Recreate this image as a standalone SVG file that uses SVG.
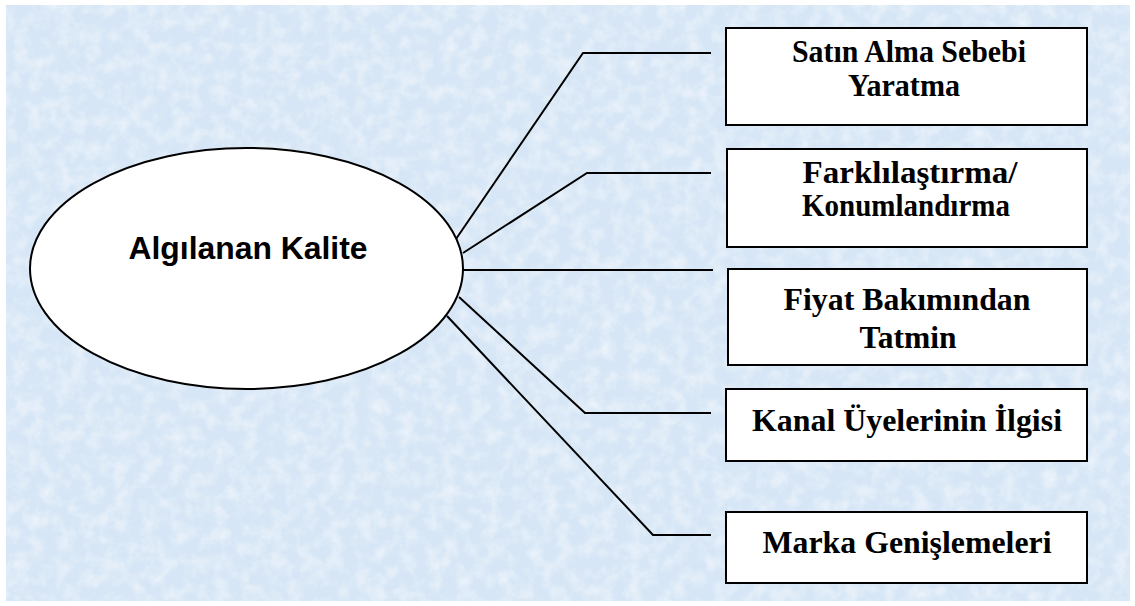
<svg xmlns="http://www.w3.org/2000/svg" width="1135" height="606" viewBox="0 0 1135 606">
  <defs>
    <!-- fine mottled paper texture for the backdrop -->
    <filter id="mottle" x="0" y="0" width="100%" height="100%">
      <feTurbulence type="fractalNoise" baseFrequency="0.07" numOctaves="4" seed="7" result="noise"/>
      <feColorMatrix in="noise" type="matrix" values="0 0 0 0 1  0 0 0 0 1  0 0 0 0 1  0 0 0 -0.9 0.55" result="spots"/>
      <feComposite in="spots" in2="SourceGraphic" operator="in" result="clip"/>
      <feBlend in="clip" in2="SourceGraphic" mode="normal"/>
    </filter>
    <style>
      .box { fill: #ffffff; stroke: #000000; stroke-width: 2; }
      .hub { fill: #ffffff; stroke: #000000; stroke-width: 2; }
      .link { fill: none; stroke: #000000; stroke-width: 2; stroke-linejoin: miter; }
      .lbl { font-family: "Liberation Serif", "Times New Roman", serif; font-weight: bold; font-size: 31px; fill: #000000; text-anchor: middle; }
      .hubLbl { font-family: "Liberation Sans", Arial, sans-serif; font-weight: bold; font-size: 31px; fill: #000000; text-anchor: middle; }
    </style>
  </defs>

  <!-- page -->
  <rect x="0" y="0" width="1135" height="606" fill="#ffffff"/>
  <rect x="6" y="5" width="1124" height="596" fill="#d6e6f6" filter="url(#mottle)"/>

  <!-- connectors -->
  <g id="connectors">
    <path class="link" d="M456,239 L583,53 H711"/>
    <path class="link" d="M463,253 L587,173 H711"/>
    <path class="link" d="M461,270 H713"/>
    <path class="link" d="M459,297 L585,413 H711"/>
    <path class="link" d="M447,316 L653,535 H711"/>
  </g>

  <!-- central node -->
  <g id="algilanan-kalite">
    <ellipse class="hub" cx="246.5" cy="268.5" rx="216.5" ry="120.5"/>
    <text class="hubLbl" x="248" y="259" textLength="239" lengthAdjust="spacingAndGlyphs">Algılanan Kalite</text>
  </g>

  <!-- outcome boxes -->
  <g id="satin-alma">
    <rect class="box" x="726" y="28" width="361" height="97"/>
    <text class="lbl" x="909" y="62" textLength="234" lengthAdjust="spacingAndGlyphs">Satın Alma Sebebi</text>
    <text class="lbl" x="904" y="96" textLength="112" lengthAdjust="spacingAndGlyphs">Yaratma</text>
  </g>

  <g id="farklilastirma">
    <rect class="box" x="727" y="149" width="360" height="98"/>
    <text class="lbl" x="910" y="183" textLength="215" lengthAdjust="spacingAndGlyphs">Farklılaştırma/</text>
    <text class="lbl" x="906" y="216" textLength="208" lengthAdjust="spacingAndGlyphs">Konumlandırma</text>
  </g>

  <g id="fiyat">
    <rect class="box" x="728" y="269" width="359" height="96"/>
    <text class="lbl" x="907" y="310" textLength="247" lengthAdjust="spacingAndGlyphs">Fiyat Bakımından</text>
    <text class="lbl" x="908" y="348" textLength="97" lengthAdjust="spacingAndGlyphs">Tatmin</text>
  </g>

  <g id="kanal">
    <rect class="box" x="726" y="389" width="361" height="72"/>
    <text class="lbl" x="907" y="431" textLength="310" lengthAdjust="spacingAndGlyphs">Kanal Üyelerinin İlgisi</text>
  </g>

  <g id="marka">
    <rect class="box" x="726" y="512" width="361" height="71"/>
    <text class="lbl" x="907" y="553" textLength="289" lengthAdjust="spacingAndGlyphs">Marka Genişlemeleri</text>
  </g>
</svg>
